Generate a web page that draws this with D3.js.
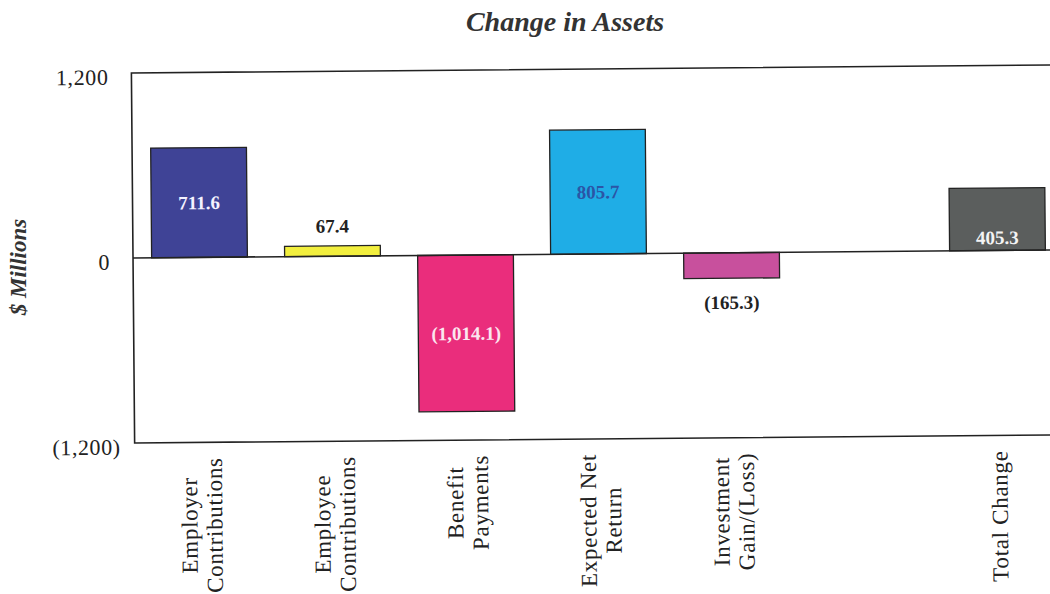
<!DOCTYPE html>
<html>
<head>
<meta charset="utf-8">
<script src="https://cdn.jsdelivr.net/npm/d3@7"></script>
<style>
  html, body { margin: 0; padding: 0; background: #fff; }
  svg { display: block; }
</style>
</head>
<body>
<svg id="chart" width="1050" height="594"></svg>
<script>
// Components of the change in plan assets, $ millions
const categories = [
  "Employer Contributions",
  "Employee Contributions",
  "Benefit Payments",
  "Expected Net Return",
  "Investment Gain/(Loss)",
  "Total Change"
];
const categoryLines = [
  ["Employer", "Contributions"],
  ["Employee", "Contributions"],
  ["Benefit", "Payments"],
  ["Expected Net", "Return"],
  ["Investment", "Gain/(Loss)"],
  ["Total Change"]
];
const values = [711.6, 67.4, -1014.1, 805.7, -165.3, 405.3];
const yTicks = [-1200, 0, 1200];

// Slot order along the x axis; an empty slot separates the total from its parts
const SPACER = "__gap__";
const slots = categories.slice(0, 5).concat([SPACER, categories[5]]);

const barColors = {
  "Employer Contributions": "#3f4396",
  "Employee Contributions": "#f2ef3e",
  "Benefit Payments": "#ea2d7c",
  "Expected Net Return": "#1fade6",
  "Investment Gain/(Loss)": "#c8509d",
  "Total Change": "#5b5e5d"
};
const labelStyle = {
  "Employer Contributions": { place: "middle", color: "#f4f2ff" },
  "Employee Contributions": { place: "above", color: "#222" },
  "Benefit Payments": { place: "middle", color: "#fbe6ef" },
  "Expected Net Return": { place: "middle", color: "#2b55a6" },
  "Investment Gain/(Loss)": { place: "below", color: "#222" },
  "Total Change": { place: "base", color: "#f4f4f4" }
};

const svg = d3.select("#chart");
const serif = "'Liberation Serif', 'Times New Roman', serif";

const frame = { left: 133, right: 1064, top: 69, bottom: 439 };

const x = d3.scaleBand()
  .domain(slots)
  .range([frame.left, frame.right])
  .paddingInner(0.28)
  .paddingOuter(0.14);

const y = d3.scaleLinear()
  .domain([-1200, 1200])
  .range([frame.bottom, frame.top]);

const fmt = v => {
  const s = d3.format(",.1f")(Math.abs(v));
  return v < 0 ? "(" + s + ")" : s;
};
const tickFmt = v => {
  const s = d3.format(",")(Math.abs(v));
  return v < 0 ? "(" + s + ")" : s;
};

// Title
svg.append("text")
  .attr("x", 565)
  .attr("y", 31)
  .attr("text-anchor", "middle")
  .style("font-family", serif)
  .style("font-weight", "bold")
  .style("font-style", "italic")
  .style("font-size", "28px")
  .style("fill", "#333")
  .text("Change in Assets");

// Chart body, with a very slight tilt
const g = svg.append("g")
  .attr("transform", `rotate(-0.5, 590, ${y(0)})`);

// Y axis labels (no tick marks); positive values leave room for the closing parenthesis
const yAxis = d3.axisLeft(y)
  .tickValues(yTicks)
  .tickFormat(tickFmt)
  .tickSize(0)
  .tickPadding(0);

const yAxisG = g.append("g")
  .attr("transform", `translate(${frame.left - 14},0)`)
  .call(yAxis);
yAxisG.select(".domain").remove();
yAxisG.selectAll("text")
  .style("font-family", serif)
  .style("font-size", "22px")
  .style("letter-spacing", "0.6px")
  .style("fill", "#222")
  .attr("dy", "0.5em")
  .attr("dx", d => d < 0 ? 0 : -9);

// Y axis title
svg.append("text")
  .attr("transform", "translate(26,267) rotate(-90)")
  .attr("text-anchor", "middle")
  .style("font-family", serif)
  .style("font-weight", "bold")
  .style("font-style", "italic")
  .style("font-size", "23px")
  .style("fill", "#333")
  .text("$ Millions");

// Bars
const data = categories.map((c, i) => ({ cat: c, value: values[i], lines: categoryLines[i] }));

g.selectAll("rect.bar")
  .data(data)
  .join("rect")
  .attr("class", "bar")
  .attr("x", d => x(d.cat))
  .attr("width", x.bandwidth())
  .attr("y", d => y(Math.max(0, d.value)))
  .attr("height", d => Math.abs(y(d.value) - y(0)))
  .style("fill", d => barColors[d.cat])
  .style("stroke", "#222")
  .style("stroke-width", 1.3);

// Plot frame and zero line
g.append("rect")
  .attr("x", frame.left)
  .attr("y", frame.top)
  .attr("width", frame.right - frame.left)
  .attr("height", frame.bottom - frame.top)
  .style("fill", "none")
  .style("stroke", "#222")
  .style("stroke-width", 1.6);

g.append("line")
  .attr("x1", frame.left)
  .attr("x2", frame.right)
  .attr("y1", y(0))
  .attr("y2", y(0))
  .style("stroke", "#222")
  .style("stroke-width", 1.6);

// Value labels
g.selectAll("text.value")
  .data(data)
  .join("text")
  .attr("class", "value")
  .attr("x", d => x(d.cat) + x.bandwidth() / 2)
  .attr("y", d => {
    const p = labelStyle[d.cat].place;
    if (p === "middle") return (y(d.value) + y(0)) / 2;
    if (p === "above") return y(d.value) - 20;
    if (p === "below") return y(d.value) + 24;
    return y(0) - 13;
  })
  .attr("dy", "0.35em")
  .attr("text-anchor", "middle")
  .style("font-family", serif)
  .style("font-weight", "bold")
  .style("font-size", "19px")
  .style("fill", d => labelStyle[d.cat].color)
  .text(d => fmt(d.value));

// Category labels, rotated, lines centred on each other, block hanging from below the frame
const catG = g.selectAll("g.cat")
  .data(data)
  .join("g")
  .attr("class", "cat");

const lineGap = 25;
catG.each(function (d) {
  const sel = d3.select(this);
  const t = sel.append("text")
    .attr("text-anchor", "middle")
    .style("font-family", serif)
    .style("font-size", "23px")
    .style("letter-spacing", "0.7px")
    .style("fill", "#222");
  d.lines.forEach((ln, i) => {
    t.append("tspan")
      .attr("x", 0)
      .attr("y", (i - (d.lines.length - 1) / 2) * lineGap)
      .attr("dy", "0.35em")
      .text(ln);
  });
  let maxLen = 0;
  t.selectAll("tspan").each(function () {
    maxLen = Math.max(maxLen, this.getComputedTextLength());
  });
  const cx = x(d.cat) + x.bandwidth() / 2;
  sel.attr("transform", `translate(${cx},${frame.bottom + 15 + maxLen / 2}) rotate(-90)`);
});
</script>
</body>
</html>
